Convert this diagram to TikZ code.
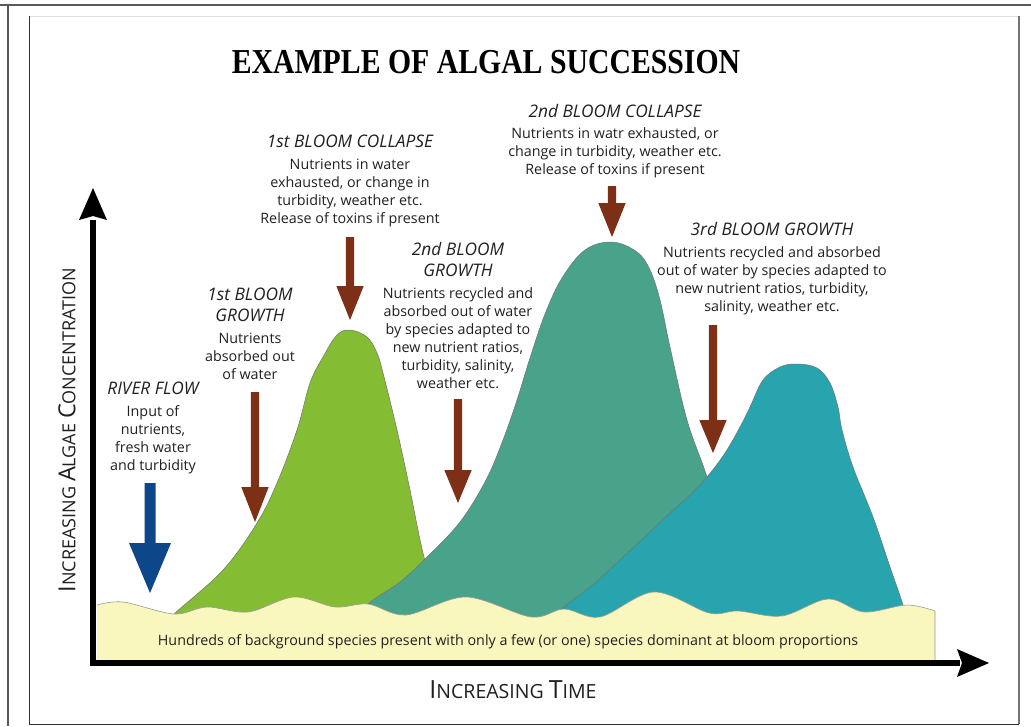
\documentclass[tikz,border=0pt]{standalone}
\usepackage{fontspec}
\usepackage{graphicx}
\setmainfont{Open Sans}
\newfontfamily\titlefont{Liberation Serif}

\definecolor{bloomA}{HTML}{84BD34}
\definecolor{bloomB}{HTML}{49A28A}
\definecolor{bloomC}{HTML}{27A4AD}
\definecolor{sand}{HTML}{F9F6BE}
\definecolor{rust}{HTML}{7D3015}
\definecolor{river}{HTML}{0E4789}
\definecolor{ink}{HTML}{231F20}

% downward block arrow: colour, x, top, head start, tip, half shaft, half head
\newcommand{\droparrow}[7]{%
  \fill[#1] ({#2-#6},#3) -- ({#2+#6},#3) -- ({#2+#6},#4) -- ({#2+#7},#4)
    -- (#2,#5) -- ({#2-#7},#4) -- ({#2-#6},#4) -- cycle;}

\newcommand{\hd}[1]{{\fontsize{17.3}{18}\selectfont\itshape #1}}

\begin{document}
\begin{tikzpicture}[x=1pt,y=-1pt,
  blurb/.style={anchor=base, inner sep=0pt, text=ink,
    font=\fontsize{14.3}{18}\selectfont},
  bloom/.style={draw=black!55, line width=0.5pt},
  axisline/.style={line width=5.5pt, black}]
\useasboundingbox (0,0) rectangle (1031,726);

% page frame
\fill[white] (0,0) rectangle (1031,726);
\draw[line width=2pt, black!65] (0,5) -- (1031,5);
\draw[line width=2pt, black!65] (8,5) -- (8,726);
\draw[line width=0.6pt, black!12] (29,16) -- (1019,16);
\draw[line width=1.6pt, black!55] (1019,16) -- (1019,724);
\draw[line width=0.8pt, black!80] (29,16) -- (29,724) -- (1019,724);

% title
\node (title) at (486,62) {\titlefont\bfseries\scalebox{0.85}[1]{\fontsize{35}{40}\selectfont EXAMPLE OF ALGAL SUCCESSION}};

% first bloom
\fill[bloomA] plot[smooth, tension=0.6] coordinates {(165,625) (174,614) (223,570) (257,523) (277,483) (297,430) (310,383) (323,357) (337,335) (350,330) (367,337) (377,353) (383,373) (397,430) (410,490) (423,553) (437,600) (447,640)} -- (165,640) -- cycle;
\draw[bloom] plot[smooth, tension=0.6] coordinates {(165,625) (174,614) (223,570) (257,523) (277,483) (297,430) (310,383) (323,357) (337,335) (350,330) (367,337) (377,353) (383,373) (397,430) (410,490) (423,553) (437,600) (447,640)};

% second bloom
\fill[bloomB] plot[smooth, tension=0.6] coordinates {(355,625) (368,604) (400,582) (427,557) (460,522) (486,480) (503,440) (517,400) (530,358) (545,314) (562,278) (585,250) (612,242) (637,252) (650,270) (660,300) (670,347) (687,420) (707,477) (725,540) (740,600) (750,640)} -- (355,640) -- cycle;
\draw[bloom] plot[smooth, tension=0.6] coordinates {(355,625) (368,604) (400,582) (427,557) (460,522) (486,480) (503,440) (517,400) (530,358) (545,314) (562,278) (585,250) (612,242) (637,252) (650,270) (660,300) (670,347) (687,420) (707,477) (725,540) (740,600) (750,640)};

% third bloom
\fill[bloomC] plot[smooth, tension=0.6] coordinates {(550,625) (563,608) (595,583) (623,557) (650,532) (670,513) (690,495) (707,477) (725,453) (740,427) (750,407) (763,380) (780,367) (797,364) (817,368) (830,383) (838,407) (842,430) (853,467) (873,517) (890,567) (903,605) (912,640)} -- (550,640) -- cycle;
\draw[bloom] plot[smooth, tension=0.6] coordinates {(550,625) (563,608) (595,583) (623,557) (650,532) (670,513) (690,495) (707,477) (725,453) (740,427) (750,407) (763,380) (780,367) (797,364) (817,368) (830,383) (838,407) (842,430) (853,467) (873,517) (890,567) (903,605) (912,640)};

% background species band
\fill[sand] (97,660) -- plot[smooth, tension=0.55] coordinates {(97,605) (123,602) (174,614) (207,607) (248,612) (294,597) (335,607) (368,604) (406,615) (466,597) (531,617) (564,609) (600,617) (654,592) (709,613) (738,611) (782,616) (828,599) (864,612) (907,605) (935,611)} -- (935,660) -- cycle;
\draw[draw=black!40, line width=0.6pt] plot[smooth, tension=0.55] coordinates {(97,605) (123,602) (174,614) (207,607) (248,612) (294,597) (335,607) (368,604) (406,615) (466,597) (531,617) (564,609) (600,617) (654,592) (709,613) (738,611) (782,616) (828,599) (864,612) (907,605) (935,611)} -- (935,660);
\node[blurb] (band) at (508,645) {Hundreds of background species present with only a few (or one) species dominant at bloom proportions};

% axes
\coordinate (origin) at (93,663);
\coordinate (ytip) at (93,188);
\coordinate (xtip) at (989,663);
\draw[axisline] (93,220) -- (origin) -- (960,663);
\fill[black] (ytip) -- (107,220) -- (93,216) -- (79,220) -- cycle;
\fill[black] (xtip) -- (957,649) -- (962,663) -- (957,677) -- cycle;

\node[inner sep=0pt, text=ink, font=\fontsize{19.5}{24}\selectfont] (xlabel) at (513,690)
  {{\fontsize{25}{24}\selectfont I}NCREASING {\fontsize{25}{24}\selectfont T}IME};
\node[inner sep=0pt, text=ink, rotate=90, font=\fontsize{18}{24}\selectfont] (ylabel) at (67,430)
  {{\fontsize{23.5}{24}\selectfont I}NCREASING {\fontsize{23.5}{24}\selectfont A}LGAE {\fontsize{23.5}{24}\selectfont C}ONCENTRATION};

% pointers
\droparrow{river}{150}{483}{543}{593}{5.5}{21}
\droparrow{rust}{255}{392}{487}{522}{4.2}{13.7}
\droparrow{rust}{350}{237}{286}{320}{4.2}{13.7}
\droparrow{rust}{458}{399}{470}{503}{4.2}{13.7}
\droparrow{rust}{612}{186}{203}{237}{4.2}{13.7}
\droparrow{rust}{713}{325}{420}{453}{4.2}{13.7}

% annotations
\node[blurb] (river) at (153,394) {\begin{tabular}[t]{@{}c@{}}\hd{RIVER FLOW}\\[4pt]Input of\\nutrients,\\fresh water\\and turbidity\end{tabular}};
\node[blurb] (growA) at (250,300) {\begin{tabular}[t]{@{}c@{}}\hd{1st BLOOM}\\[3pt]\hd{GROWTH}\\[4pt]Nutrients\\absorbed out\\of water\end{tabular}};
\node[blurb] (fallA) at (350,147) {\begin{tabular}[t]{@{}c@{}}\hd{1st BLOOM COLLAPSE}\\[4pt]Nutrients in water\\exhausted, or change in\\turbidity, weather etc.\\Release of toxins if present\end{tabular}};
\node[blurb] (growB) at (458,255) {\begin{tabular}[t]{@{}c@{}}\hd{2nd BLOOM}\\[3pt]\hd{GROWTH}\\[4pt]Nutrients recycled and\\absorbed out of water\\by species adapted to\\new nutrient ratios,\\turbidity, salinity,\\weather etc.\end{tabular}};
\node[blurb] (fallB) at (615,117) {\begin{tabular}[t]{@{}c@{}}\hd{2nd BLOOM COLLAPSE}\\[3pt]Nutrients in watr exhausted, or\\change in turbidity, weather etc.\\Release of toxins if present\end{tabular}};
\node[blurb] (growC) at (772,235) {\begin{tabular}[t]{@{}c@{}}\hd{3rd BLOOM GROWTH}\\[4pt]Nutrients recycled and absorbed\\out of water by species adapted to\\new nutrient ratios, turbidity,\\salinity, weather etc.\end{tabular}};
\end{tikzpicture}
\end{document}
